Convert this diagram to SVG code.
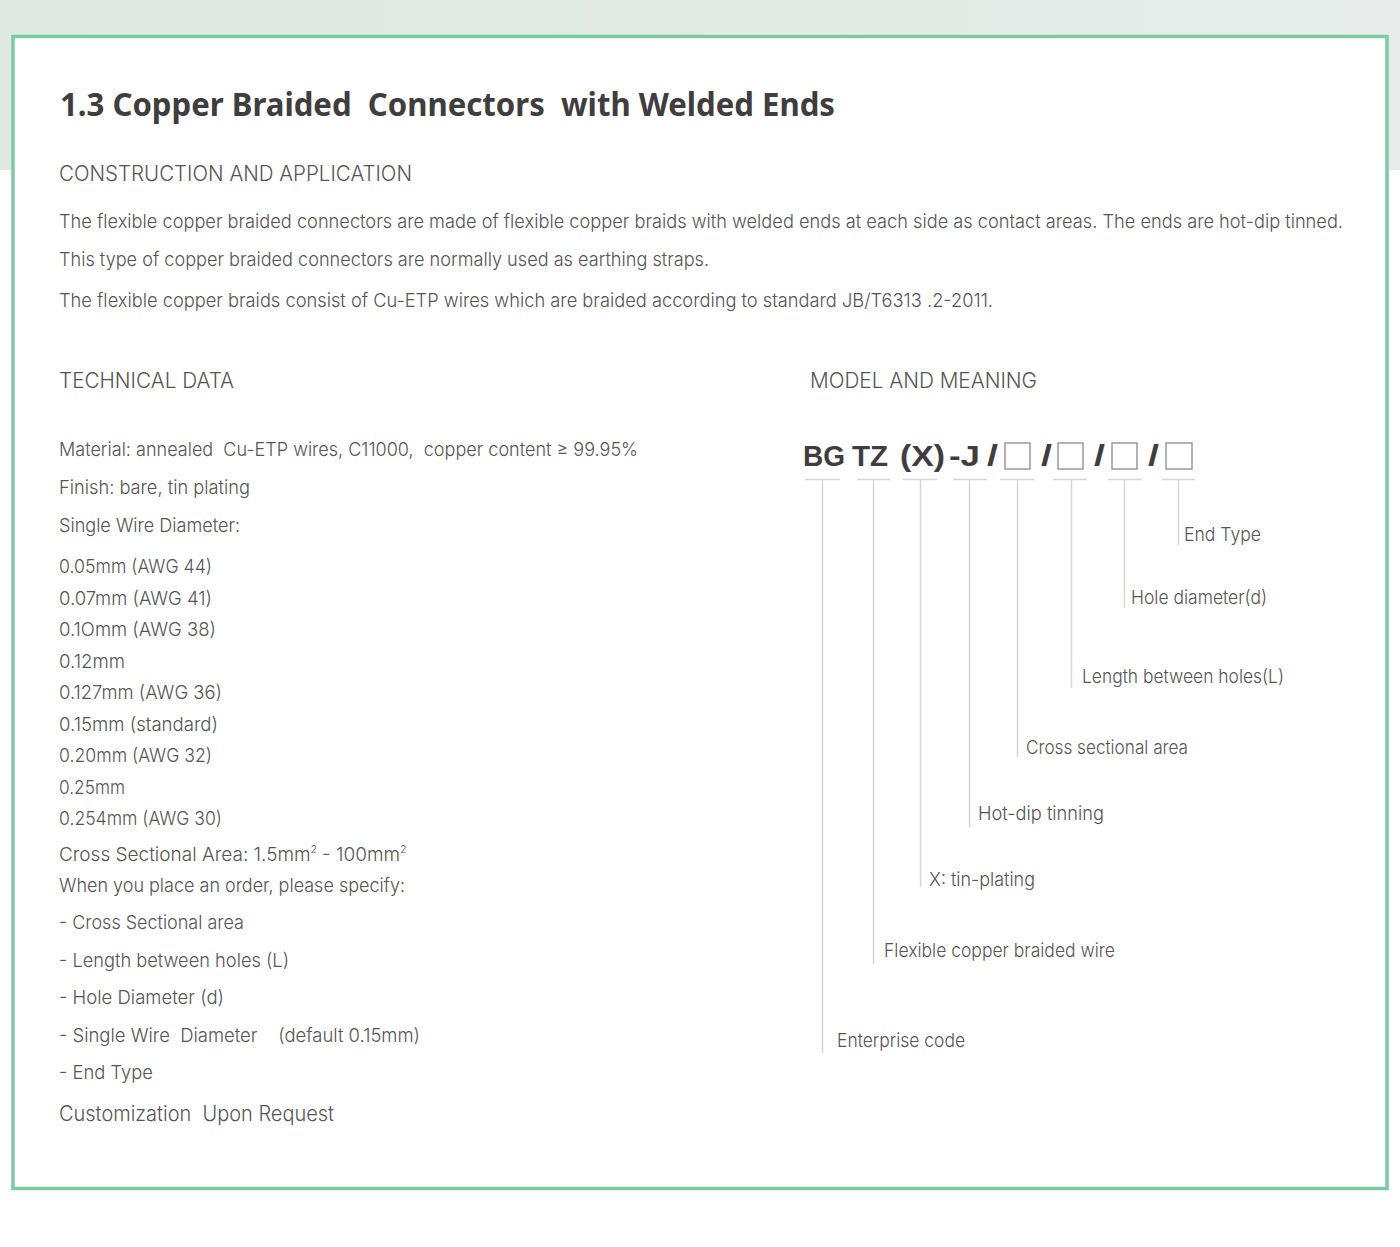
<svg xmlns="http://www.w3.org/2000/svg" width="1400" height="1247" viewBox="0 0 1400 1247">
<defs>
<linearGradient id="band" x1="0" y1="0" x2="1" y2="0">
<stop offset="0" stop-color="#dfe9e2"/>
<stop offset="1" stop-color="#e7ecea"/>
</linearGradient>
<style>
.t{font-family:"Inter","Noto Sans","Liberation Sans",sans-serif;font-weight:300;fill:#555555;font-size:19px}
.h{font-family:"Inter","Noto Sans","Liberation Sans",sans-serif;font-weight:300;fill:#555555;font-size:21px}
.title{font-family:"Noto Sans","Liberation Sans",sans-serif;font-weight:700;fill:#3f3d3d;font-size:33px}
.code{font-family:"Liberation Sans","Noto Sans",sans-serif;font-weight:700;fill:#3f3d3d;font-size:29px}
.lead{stroke:#d6d6d6;stroke-width:1.5;fill:none}
.box{fill:#ffffff;stroke:#9a9a9a;stroke-width:1.5}
</style>
</defs>
<rect x="0" y="0" width="1400" height="1247" fill="#ffffff"/>
<rect x="0" y="0" width="1400" height="170" fill="url(#band)"/>
<rect x="13" y="36.5" width="1374" height="1152" fill="#ffffff" stroke="#7ccaa2" stroke-width="3.5"/>

<g id="header">
<text class="title" x="60" y="116" textLength="775" lengthAdjust="spacingAndGlyphs" xml:space="preserve">1.3 Copper Braided  Connectors  with Welded Ends</text>
<text class="h" x="59" y="181" textLength="353" lengthAdjust="spacingAndGlyphs">CONSTRUCTION AND APPLICATION</text>
<text class="t" x="59" y="228" textLength="1284" lengthAdjust="spacingAndGlyphs">The flexible copper braided connectors are made of flexible copper braids with welded ends at each side as contact areas. The ends are hot-dip tinned.</text>
<text class="t" x="59" y="266" textLength="650" lengthAdjust="spacingAndGlyphs">This type of copper braided connectors are normally used as earthing straps.</text>
<text class="t" x="59" y="307" textLength="934" lengthAdjust="spacingAndGlyphs">The flexible copper braids consist of Cu-ETP wires which are braided according to standard JB/T6313 .2-2011.</text>
</g>

<g id="technical-data">
<text class="h" x="59" y="388" textLength="175" lengthAdjust="spacingAndGlyphs">TECHNICAL DATA</text>
<text class="t" x="59" y="456" textLength="579" lengthAdjust="spacingAndGlyphs" xml:space="preserve">Material: annealed  Cu-ETP wires, C11000,  copper content ≥ 99.95%</text>
<text class="t" x="59" y="494" textLength="191" lengthAdjust="spacingAndGlyphs">Finish: bare, tin plating</text>
<text class="t" x="59" y="532" textLength="181" lengthAdjust="spacingAndGlyphs">Single Wire Diameter:</text>
<text class="t" x="59" y="573" textLength="153" lengthAdjust="spacingAndGlyphs">0.05mm (AWG 44)</text>
<text class="t" x="59" y="605" textLength="153" lengthAdjust="spacingAndGlyphs">0.07mm (AWG 41)</text>
<text class="t" x="59" y="636" textLength="157" lengthAdjust="spacingAndGlyphs">0.1Omm (AWG 38)</text>
<text class="t" x="59" y="668" textLength="66" lengthAdjust="spacingAndGlyphs">0.12mm</text>
<text class="t" x="59" y="699" textLength="163" lengthAdjust="spacingAndGlyphs">0.127mm (AWG 36)</text>
<text class="t" x="59" y="731" textLength="159" lengthAdjust="spacingAndGlyphs">0.15mm (standard)</text>
<text class="t" x="59" y="762" textLength="153" lengthAdjust="spacingAndGlyphs">0.20mm (AWG 32)</text>
<text class="t" x="59" y="794" textLength="66" lengthAdjust="spacingAndGlyphs">0.25mm</text>
<text class="t" x="59" y="825" textLength="163" lengthAdjust="spacingAndGlyphs">0.254mm (AWG 30)</text>
<text class="t" x="59" y="861">Cross Sectional Area: 1.5mm<tspan font-size="10" dy="-8">2</tspan><tspan dy="8"> - 100mm</tspan><tspan font-size="10" dy="-8">2</tspan></text>
<text class="t" x="59" y="892" textLength="346" lengthAdjust="spacingAndGlyphs">When you place an order, please specify:</text>
<text class="t" x="59" y="929" textLength="185" lengthAdjust="spacingAndGlyphs">- Cross Sectional area</text>
<text class="t" x="59" y="967" textLength="230" lengthAdjust="spacingAndGlyphs">- Length between holes (L)</text>
<text class="t" x="59" y="1004" textLength="165" lengthAdjust="spacingAndGlyphs">- Hole Diameter (d)</text>
<text class="t" x="59" y="1042" textLength="361" lengthAdjust="spacingAndGlyphs" xml:space="preserve">- Single Wire  Diameter    (default 0.15mm)</text>
<text class="t" x="59" y="1079" textLength="94" lengthAdjust="spacingAndGlyphs">- End Type</text>
<text class="h" x="59" y="1121" textLength="275" lengthAdjust="spacingAndGlyphs" xml:space="preserve">Customization  Upon Request</text>
</g>

<g id="model-code">
<text class="h" x="810" y="388" textLength="227" lengthAdjust="spacingAndGlyphs">MODEL AND MEANING</text>
<text class="code" x="803" y="466" textLength="42" lengthAdjust="spacingAndGlyphs">BG</text>
<text class="code" x="852" y="466" textLength="36" lengthAdjust="spacingAndGlyphs">TZ</text>
<text class="code" x="900" y="466" textLength="45" lengthAdjust="spacingAndGlyphs">(X)</text>
<text class="code" x="949" y="466" textLength="31" lengthAdjust="spacingAndGlyphs">-J</text>
<text class="code" x="987" y="466" textLength="11" lengthAdjust="spacingAndGlyphs">/</text>
<text class="code" x="1041" y="466" textLength="11" lengthAdjust="spacingAndGlyphs">/</text>
<text class="code" x="1094" y="466" textLength="11" lengthAdjust="spacingAndGlyphs">/</text>
<text class="code" x="1148" y="466" textLength="11" lengthAdjust="spacingAndGlyphs">/</text>
<rect class="box" x="1005" y="443" width="25" height="26"/>
<rect class="box" x="1058" y="443" width="25" height="26"/>
<rect class="box" x="1112" y="443" width="25" height="26"/>
<rect class="box" x="1166" y="443" width="26" height="26"/>
</g>

<g id="connectors">
<path class="lead" d="M805 479.5H840M857 479.5H890M903 479.5H937M953 479.5H987M1000 479.5H1034M1053 479.5H1087M1108 479.5H1142M1162 479.5H1195"/>
<path class="lead" d="M822.5 480V1053M873.5 480V964M920.5 480V887M969.5 480V827M1017.5 480V757M1071.5 480V688M1124.5 480V608M1178.5 480V545"/>
</g>

<g id="labels">
<text class="t" x="1184" y="541" textLength="77" lengthAdjust="spacingAndGlyphs">End Type</text>
<text class="t" x="1131" y="604" textLength="136" lengthAdjust="spacingAndGlyphs">Hole diameter(d)</text>
<text class="t" x="1082" y="683" textLength="202" lengthAdjust="spacingAndGlyphs">Length between holes(L)</text>
<text class="t" x="1026" y="754" textLength="162" lengthAdjust="spacingAndGlyphs">Cross sectional area</text>
<text class="t" x="978" y="820" textLength="126" lengthAdjust="spacingAndGlyphs">Hot-dip tinning</text>
<text class="t" x="929" y="886" textLength="106" lengthAdjust="spacingAndGlyphs">X: tin-plating</text>
<text class="t" x="884" y="957" textLength="231" lengthAdjust="spacingAndGlyphs">Flexible copper braided wire</text>
<text class="t" x="837" y="1047" textLength="128" lengthAdjust="spacingAndGlyphs">Enterprise code</text>
</g>
</svg>
